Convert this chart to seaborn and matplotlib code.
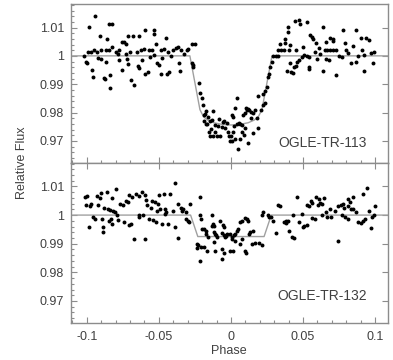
import matplotlib
matplotlib.use("Agg")
import matplotlib.pyplot as plt
import seaborn as sns
import pandas as pd
from matplotlib.ticker import MultipleLocator, FuncFormatter

# ---------------- data (phase, relative flux) ----------------
tr113_left = [
    (-0.094, 1.0142), (-0.0984, 1.0101), (-0.0845, 1.0113), (-0.0826, 1.0113), (-0.0907, 1.0071),
    (-0.0859, 1.006), (-0.0757, 1.0048), (-0.074, 1.005), (-0.073, 1.0041), (-0.0713, 1.0071),
    (-0.0683, 1.0071), (-0.0639, 1.0071), (-0.0595, 1.0093), (-0.0537, 1.0093), (-0.0537, 1.0076),
    (-0.0454, 1.0062), (-0.0519, 1.0041), (-0.0366, 1.0033), (-0.0273, 1.0043), (-0.025, 1.0043),
    (-0.0296, 1.0024), (-0.0303, 1.0022), (-0.0995, 1.0012), (-0.0972, 1.0015), (-0.0949, 1.0022),
    (-0.0933, 1.0012), (-0.0903, 1.002), (-0.0868, 1.002), (-0.0845, 1.002), (-0.0822, 1.0033),
    (-0.0799, 1.0015), (-0.0776, 1.002), (-0.0729, 1.0008), (-0.0699, 1.0012), (-0.0655, 1.0015),
    (-0.0625, 1.002), (-0.0602, 1.0024), (-0.0572, 1.002), (-0.0549, 1.002), (-0.0486, 1.002),
    (-0.0463, 1.0024), (-0.044, 1.0015), (-0.0405, 1.002), (-0.0382, 1.0027), (-0.0348, 1.002),
    (-0.1021, 1.0), (-0.1009, 0.998), (-0.0998, 0.9975), (-0.0963, 0.9951), (-0.0958, 0.9924),
    (-0.0921, 0.9992), (-0.0905, 0.9989), (-0.0882, 0.9923), (-0.0877, 0.9917), (-0.0836, 0.9933),
    (-0.084, 0.9886), (-0.0868, 0.9977), (-0.0757, 0.9951), (-0.0722, 0.9989), (-0.0711, 0.9971),
    (-0.0694, 0.9915), (-0.0673, 0.9898), (-0.0648, 0.9965), (-0.0639, 0.9956), (-0.0593, 0.9936),
    (-0.0574, 0.9944), (-0.0516, 0.9975), (-0.05, 0.9969), (-0.0486, 0.9936), (-0.0442, 0.9936),
    (-0.0431, 0.9944), (-0.0359, 0.9974), (-0.0354, 0.9945), (-0.0271, 0.9974), (-0.0266, 0.9966),
    (-0.0261, 0.9959), (-0.0775, 0.9985), (-0.0565, 0.9995), (-0.0535, 1.0002), (-0.0475, 0.9992),
    (-0.0415, 0.9998), (-0.0325, 1.0005), (-0.0785, 1.0005), (-0.0615, 0.9985),
]
tr113_transit = [
    (-0.0215, 0.9869), (-0.0203, 0.985), (-0.0225, 0.9905), (-0.019, 0.979), (-0.018, 0.9795),
    (-0.017, 0.9805), (-0.0175, 0.976), (-0.0165, 0.976), (-0.0148, 0.9769), (-0.015, 0.9733),
    (-0.0145, 0.9716), (-0.0125, 0.9716), (-0.0123, 0.9804), (-0.011, 0.9757), (-0.011, 0.9733),
    (-0.0095, 0.9716), (-0.0076, 0.9716), (-0.0055, 0.9765), (-0.0045, 0.9769), (-0.003, 0.9762),
    (-0.002, 0.9733), (0.0014, 0.9733), (-0.0015, 0.9716), (0.0, 0.9716), (-0.0007, 0.9698),
    (0.0005, 0.9698), (0.0051, 0.9671), (0.0005, 0.979), (0.0015, 0.9783), (0.004, 0.976),
    (0.0055, 0.9762), (0.0065, 0.976), (0.0074, 0.9733), (0.0085, 0.979), (0.0095, 0.9797),
    (0.011, 0.981), (0.012, 0.9813), (0.014, 0.9803), (0.015, 0.9799), (0.017, 0.981),
    (0.012, 0.9693), (0.0155, 0.9728), (0.019, 0.9745), (0.014, 0.978), (0.018, 0.978),
    (0.021, 0.981), (0.022, 0.9825), (0.0236, 0.9834), (0.004, 0.9851), (0.003, 0.9815),
    (0.0105, 0.9815), (0.0125, 0.981), (0.019, 0.9859), (0.022, 0.9866), (0.0235, 0.9875),
    (0.025, 0.989), (0.026, 0.9925), (0.0265, 0.9935), (-0.016, 0.9785), (-0.013, 0.9775),
    (-0.008, 0.9778), (-0.006, 0.9748), (-0.004, 0.9745), (-0.009, 0.9752), (0.002, 0.9752),
    (0.008, 0.9755), (0.01, 0.9745), (-0.0135, 0.9742), (0.0025, 0.9705), (0.006, 0.9705),
    (0.009, 0.9722), (-0.0195, 0.9825), (-0.0185, 0.977),
]
tr113_right = [
    (0.027, 0.996), (0.0285, 0.998), (0.029, 1.0), (0.031, 1.0), (0.033, 1.0), (0.033, 1.002),
    (0.035, 1.002), (0.0365, 1.002), (0.034, 1.0043), (0.0375, 1.0045), (0.041, 1.004),
    (0.0375, 1.006), (0.0395, 1.0102), (0.0395, 1.0085), (0.0445, 1.0122), (0.047, 1.0125),
    (0.048, 1.0112), (0.053, 1.0118), (0.0405, 1.002), (0.045, 1.002), (0.041, 0.9975),
    (0.045, 0.9965), (0.0435, 0.996), (0.039, 0.9945), (0.0415, 0.9942), (0.043, 0.9938),
    (0.047, 0.9985), (0.0455, 0.9978), (0.0525, 1.0), (0.054, 0.9995), (0.051, 1.0003),
    (0.054, 0.9962), (0.0545, 0.9952), (0.055, 1.0075), (0.056, 1.0068), (0.057, 1.006),
    (0.059, 1.0045), (0.061, 1.0028), (0.06, 0.999), (0.064, 1.0103), (0.064, 0.9945),
    (0.066, 1.0048), (0.065, 1.002), (0.067, 1.002), (0.069, 1.002), (0.071, 1.002),
    (0.073, 1.002), (0.069, 1.0063), (0.071, 1.0058), (0.0705, 1.0052), (0.066, 0.999),
    (0.068, 0.9985), (0.073, 0.9933), (0.078, 1.0092), (0.079, 1.0045), (0.08, 1.002),
    (0.0815, 1.001), (0.083, 0.9975), (0.0865, 0.998), (0.087, 1.0092), (0.0905, 1.0063),
    (0.091, 1.002), (0.092, 1.0003), (0.092, 0.9945), (0.094, 1.0063), (0.096, 1.0057),
    (0.097, 1.001), (0.0985, 0.9975), (0.099, 1.0012), (0.085, 1.0035), (0.088, 1.0),
    (0.075, 1.0), (0.077, 0.9995), (0.062, 1.0005), (0.058, 1.0015), (0.05, 1.003),
    (0.0495, 0.9995),
]
tr132_left = [
    (-0.1014, 1.0062), (-0.1005, 1.0035), (-0.0998, 1.0066), (-0.098, 1.003), (-0.097, 1.004),
    (-0.096, 0.9995), (-0.0945, 0.9985), (-0.0985, 0.9957), (-0.093, 1.0066), (-0.091, 1.006),
    (-0.092, 1.0035), (-0.0905, 1.0078), (-0.0895, 0.9985), (-0.089, 0.996), (-0.0885, 0.994),
    (-0.0863, 1.0082), (-0.0828, 1.0061), (-0.0799, 1.0092), (-0.088, 1.0025), (-0.0855, 1.002),
    (-0.084, 1.0018), (-0.082, 1.0015), (-0.0805, 1.0012), (-0.083, 0.9985), (-0.079, 1.0),
    (-0.0785, 0.9982), (-0.0828, 0.9968), (-0.0849, 0.998), (-0.077, 1.004), (-0.075, 1.0035),
    (-0.073, 1.005), (-0.0715, 1.0045), (-0.0705, 1.007), (-0.0685, 1.0062), (-0.066, 1.0072),
    (-0.064, 1.0068), (-0.0745, 0.9975), (-0.0705, 0.9965), (-0.0695, 0.9968), (-0.0675, 0.9918),
    (-0.064, 1.0), (-0.0635, 0.9995), (-0.062, 1.008), (-0.0595, 1.007), (-0.059, 1.0052),
    (-0.058, 1.0035), (-0.0595, 0.9918), (-0.057, 0.9985), (-0.054, 0.9982), (-0.052, 0.9975),
    (-0.055, 1.005), (-0.0525, 1.0045), (-0.0505, 1.004), (-0.0515, 1.0015), (-0.049, 1.002),
    (-0.05, 1.007), (-0.0465, 1.0075), (-0.0425, 1.0075), (-0.0475, 0.997), (-0.044, 0.997),
    (-0.0385, 0.9957), (-0.0389, 1.0113), (-0.037, 1.004), (-0.035, 1.0025), (-0.034, 1.0015),
    (-0.033, 1.002), (-0.0315, 1.001), (-0.0365, 0.9921), (-0.031, 0.9985), (-0.03, 0.998),
    (-0.029, 0.9975), (-0.0285, 1.0039), (-0.0405, 1.0015), (-0.045, 1.001), (-0.046, 1.0005),
    (-0.061, 1.0), (-0.0555, 1.0025), (-0.0455, 1.002),
]
tr132_transit = [
    (-0.0215, 1.0062), (-0.0215, 1.0), (-0.021, 0.9985), (-0.0235, 0.99), (-0.023, 0.9895),
    (-0.0235, 0.9885), (-0.0215, 0.9839), (-0.0205, 0.989), (-0.0185, 0.989), (-0.02, 0.995),
    (-0.0185, 0.995), (-0.0175, 0.9945), (-0.017, 0.9935), (-0.016, 0.9925), (-0.0134, 1.0),
    (-0.0125, 0.997), (-0.012, 0.9962), (-0.0165, 0.9874), (-0.0134, 0.9962), (-0.0118, 0.994),
    (-0.011, 0.9935), (-0.0105, 0.993), (-0.0095, 0.9924), (-0.0115, 0.9905), (-0.011, 0.9874),
    (-0.0075, 0.9978), (-0.0055, 0.9965), (-0.0045, 0.996), (-0.006, 0.9938), (-0.005, 0.9932),
    (-0.004, 0.9925), (-0.0035, 0.9928), (-0.003, 0.9935), (-0.006, 0.988), (-0.005, 0.9868),
    (-0.006, 0.9845), (-0.001, 0.9874), (0.0015, 0.9874), (-0.0005, 0.9935), (0.0005, 0.9925),
    (0.002, 0.993), (0.003, 0.9935), (0.004, 0.9945), (0.005, 0.995), (0.0065, 0.9975),
    (0.0075, 0.998), (0.001, 0.9915), (0.003, 0.9908), (0.0065, 0.99), (0.008, 0.9915),
    (0.0095, 0.9874), (0.0105, 0.9866), (0.0095, 0.999), (0.011, 0.9985), (0.012, 0.998),
    (0.0125, 0.9935), (0.0135, 0.994), (0.015, 0.9945), (0.0145, 0.99), (0.017, 0.9903),
    (0.0195, 0.9903), (0.0215, 0.9895), (0.0215, 1.0), (0.0225, 1.0012), (0.0255, 1.0),
    (0.0265, 0.9995), (0.028, 0.9993), (0.029, 0.998), (0.033, 1.0035), (0.034, 1.0033),
    (0.0315, 0.9939),
]
tr132_right = [
    (0.037, 0.9975), (0.038, 0.9972), (0.0395, 0.9978), (0.0385, 0.998), (0.0405, 0.9945),
    (0.0456, 1.0062), (0.043, 1.0), (0.0425, 0.9924), (0.0435, 0.992), (0.047, 0.9975),
    (0.05, 0.996), (0.051, 0.9962), (0.053, 0.9965), (0.0525, 1.0035), (0.054, 1.003),
    (0.0555, 1.0048), (0.0565, 1.0042), (0.059, 1.0062), (0.061, 1.0055), (0.062, 1.0042),
    (0.063, 1.0038), (0.0605, 1.0035), (0.0645, 1.006), (0.0635, 1.0), (0.0665, 0.9995),
    (0.0695, 0.9995), (0.0745, 0.991), (0.0765, 1.0035), (0.078, 1.004), (0.0785, 1.0025),
    (0.077, 1.0), (0.079, 0.9995), (0.081, 0.9985), (0.0815, 1.0055), (0.0825, 1.0045),
    (0.0815, 1.003), (0.0835, 1.0022), (0.085, 1.002), (0.0865, 1.001), (0.085, 1.0062),
    (0.088, 0.9975), (0.09, 0.9972), (0.0915, 0.998), (0.093, 0.9985), (0.0915, 1.0072),
    (0.0945, 1.0094), (0.096, 1.0015), (0.098, 0.9995), (0.099, 1.0), (0.1, 1.003),
    (0.0975, 0.9955), (0.072, 1.0015), (0.0685, 1.002), (0.066, 1.001), (0.0745, 1.003),
    (0.0565, 0.999), (0.058, 0.9985), (0.0495, 1.0005),
]

model113_phase = [-0.11, -0.0285, -0.025, -0.0215, -0.019, -0.016, -0.012, -0.006, 0.0,
                  0.006, 0.012, 0.016, 0.019, 0.0215, 0.025, 0.0285, 0.11]
model113_flux = [1.0, 1.0, 0.9905, 0.981, 0.9785, 0.9773, 0.9764, 0.9758, 0.9756,
                 0.9758, 0.9764, 0.9773, 0.9785, 0.981, 0.9905, 1.0, 1.0]
model132_phase = [-0.11, -0.028, -0.023, 0.023, 0.028, 0.11]
model132_flux = [1.0, 1.0, 0.9925, 0.9925, 1.0, 1.0]

panels = [
    ("OGLE-TR-113", tr113_left + tr113_transit + tr113_right, model113_phase, model113_flux, 0.124),
    ("OGLE-TR-132", tr132_left + tr132_transit + tr132_right, model132_phase, model132_flux, 0.17),
]

# ---------------- figure ----------------
sns.set_style("ticks")
plt.rcParams["font.family"] = ["Liberation Sans", "DejaVu Sans"]
fig = plt.figure(figsize=(3.93, 3.6), dpi=100)
left, width = 71 / 393, (388 - 71) / 393
pos = [(left, 1 - 162.7 / 360, width, (162.7 - 4) / 360),
       (left, 1 - 323 / 360, width, (323 - 162.7) / 360)]

spine_c = "#8c8c8c"
text_c = "#404040"

for i, (name, pts, mp, mf, ty) in enumerate(panels):
    ax = fig.add_axes(pos[i])
    df = pd.DataFrame(pts, columns=["phase", "flux"])
    mdf = pd.DataFrame({"phase": mp, "flux": mf})
    sns.lineplot(data=mdf, x="phase", y="flux", ax=ax, color="#a0a0a0", lw=1.0,
                 estimator=None, sort=False, zorder=1)
    sns.scatterplot(data=df, x="phase", y="flux", ax=ax, color="black", s=8,
                    linewidth=0, zorder=2)
    ax.set_xlim(-0.111, 0.109)
    ax.set_ylim(0.9623, 1.0183)
    ax.set_xlabel("")
    ax.set_ylabel("")
    ax.yaxis.set_major_locator(MultipleLocator(0.01))
    ax.yaxis.set_minor_locator(MultipleLocator(0.002))
    ax.xaxis.set_major_locator(MultipleLocator(0.05))
    ax.xaxis.set_minor_locator(MultipleLocator(0.01))
    ax.yaxis.set_major_formatter(FuncFormatter(lambda v, p: f"{v:g}" if abs(v - round(v, 2)) < 1e-9 else ""))
    for s in ax.spines.values():
        s.set_color(spine_c)
        s.set_linewidth(1.0)
    ax.tick_params(axis="both", which="both", direction="in", colors=spine_c,
                   labelcolor=text_c, labelsize=9, width=0.8)
    ax.tick_params(which="major", length=4)
    ax.tick_params(which="minor", length=2.5)
    ax.tick_params(axis="y", left=True, right=True, pad=5)
    if i == 0:
        ax.tick_params(axis="x", bottom=True, top=False, labelbottom=False)
    else:
        ax.tick_params(axis="x", bottom=True, top=True, labelbottom=True, pad=6)
        ax.xaxis.set_major_formatter(FuncFormatter(lambda v, p: f"{v:g}"))
    ax.text(0.934, ty, name, transform=ax.transAxes, ha="right", va="center",
            fontsize=10, color=text_c)

fig.text(22 / 393, 1 - 163 / 360, "Relative Flux", rotation=90, ha="center",
         va="center", fontsize=9, color=text_c)
fig.text(229 / 393, 1 - 351 / 360, "Phase", ha="center", va="center",
         fontsize=9, color=text_c)

fig.savefig("out.png", dpi=100, facecolor="white")
